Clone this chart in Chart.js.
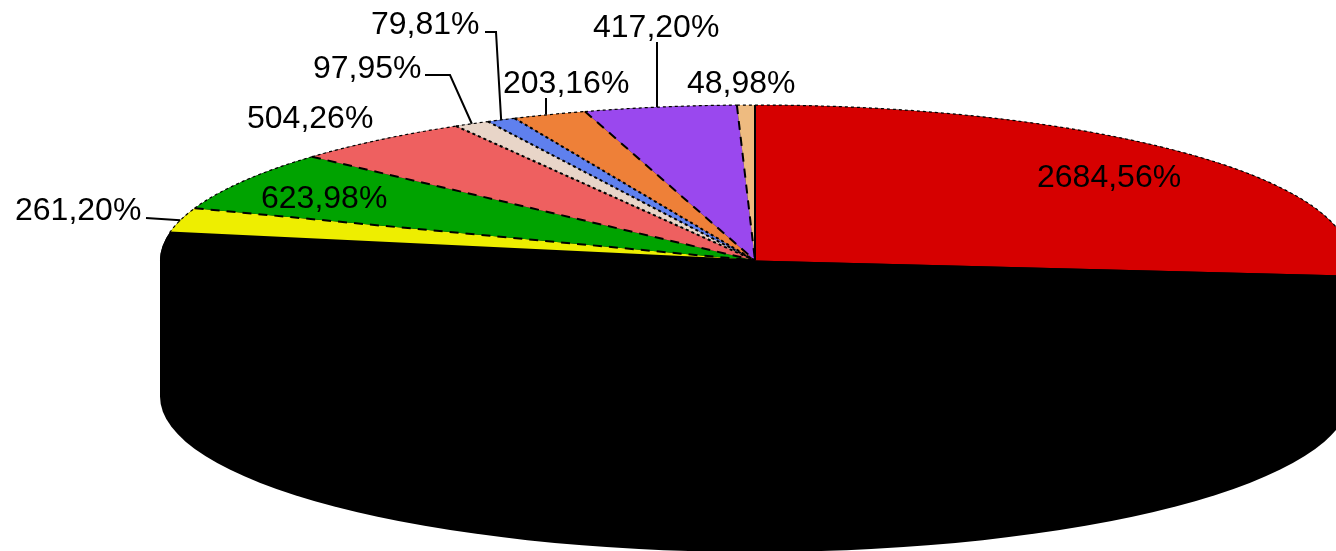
<!DOCTYPE html>
<html>
<head>
<meta charset="utf-8">
<title>Pie</title>
<script src="https://cdn.jsdelivr.net/npm/chart.js@4"></script>
<style>
  html, body { margin: 0; padding: 0; background: #fff; overflow: hidden; }
  canvas { display: block; }
</style>
</head>
<body>
<canvas id="pie" width="1336" height="551"></canvas>
<script>
// values, clockwise from 12 o'clock
const sliceValues = [2684.56, 5189, 261.20, 623.98, 504.26, 97.95, 79.81, 203.16, 417.20, 48.98];
const sliceColors = ["#d60000", "#000000", "#eeee00", "#00a300", "#ee6060", "#e8d5c8", "#5f80ee", "#ee8038", "#9a48ee", "#eebb80"];
const sliceLabels = ["2684,56%", "", "261,20%", "623,98%", "504,26%", "97,95%", "79,81%", "203,16%", "417,20%", "48,98%"];

// where each text goes (left x, middle y) and the leader points up to the slice edge
const labelSpots = [[1037, 178], null, [15, 211], [261, 199], [247, 119], [313, 69], [371, 25], [503, 84], [593, 28], [687, 84]];
const leaders = [null, null, [[146, 218]], null, null, [[425, 75], [450, 75]], [[485, 32], [496, 32]], [[546, 98]], [[657, 42]], null];

const squash = 0.2613;
const depth = 136;
const font = '32px "Liberation Sans", Arial, sans-serif';

function edgePoint(arc, angle, r) {
  return [arc.x + r * Math.cos(angle), arc.y + r * squash * Math.sin(angle)];
}

const tiltPlugin = {
  id: "tilt",
  beforeDatasetsDraw(chart) {
    const ctx = chart.ctx;
    const arc = chart.getDatasetMeta(0).data[0];
    const r = arc.outerRadius;
    // black wall under the disc
    ctx.save();
    ctx.fillStyle = "#000";
    ctx.beginPath();
    ctx.ellipse(arc.x, arc.y + depth, r, r * squash, 0, 0, Math.PI);
    ctx.lineTo(arc.x - r, arc.y);
    ctx.ellipse(arc.x, arc.y, r, r * squash, 0, Math.PI, 0);
    ctx.closePath();
    ctx.fill();
    ctx.restore();
    // squash the disc itself
    ctx.save();
    ctx.translate(0, arc.y);
    ctx.scale(1, squash);
    ctx.translate(0, -arc.y);
  },
  afterDatasetsDraw(chart) {
    const ctx = chart.ctx;
    ctx.restore();
    const arcs = chart.getDatasetMeta(0).data;

    ctx.save();
    ctx.strokeStyle = "#000";
    arcs.forEach(function (arc, i) {
      const r = arc.outerRadius;
      if (i == 1) return;
      // rim, small dots
      ctx.lineWidth = 1.2;
      ctx.setLineDash([3, 3]);
      ctx.beginPath();
      ctx.ellipse(arc.x, arc.y, r, r * squash, 0, arc.startAngle, arc.endAngle);
      ctx.stroke();
      // edge between this slice and the one before it
      const span = arc.endAngle - arc.startAngle;
      const prevSpan = arcs[(i + arcs.length - 1) % arcs.length];
      const thin = span < 0.1 || prevSpan.endAngle - prevSpan.startAngle < 0.1;
      ctx.lineWidth = 2;
      if (i == 0 || i == 2) ctx.setLineDash([]);
      else if (thin && i != 9) ctx.setLineDash([3, 3]);
      else ctx.setLineDash([9, 7]);
      const p = edgePoint(arc, arc.startAngle, r);
      ctx.beginPath();
      ctx.moveTo(p[0], p[1]);
      ctx.lineTo(arc.x, arc.y);
      ctx.stroke();
    });
    ctx.setLineDash([]);

    // leaders and value texts
    ctx.lineWidth = 2;
    leaders.forEach(function (pts, i) {
      if (!pts) return;
      const arc = arcs[i];
      const end = edgePoint(arc, (arc.startAngle + arc.endAngle) / 2, arc.outerRadius);
      ctx.beginPath();
      ctx.moveTo(pts[0][0], pts[0][1]);
      pts.slice(1).forEach(function (pt) { ctx.lineTo(pt[0], pt[1]); });
      // the straight up-and-down leaders stay vertical
      ctx.lineTo(pts.length == 1 && i != 2 ? pts[0][0] : end[0], end[1]);
      ctx.stroke();
    });

    ctx.fillStyle = "#000";
    ctx.font = font;
    ctx.textAlign = "left";
    ctx.textBaseline = "middle";
    sliceLabels.forEach(function (txt, i) {
      if (!labelSpots[i]) return;
      ctx.fillText(txt, labelSpots[i][0], labelSpots[i][1]);
    });
    ctx.restore();
  }
};

const context = document.getElementById("pie").getContext("2d");
const myChart = new Chart(context, {
  type: "pie",
  data: {
    labels: sliceLabels,
    datasets: [
      {
        data: sliceValues,
        backgroundColor: sliceColors,
        borderWidth: 0,
        radius: 595,
        clip: false,
      },
    ],
  },
  options: {
    responsive: false,
    animation: false,
    devicePixelRatio: 1,
    layout: { padding: { left: 174, bottom: 30 } },
    plugins: {
      legend: { display: false },
      tooltip: { enabled: false },
    },
  },
  plugins: [tiltPlugin],
});
</script>
</body>
</html>
